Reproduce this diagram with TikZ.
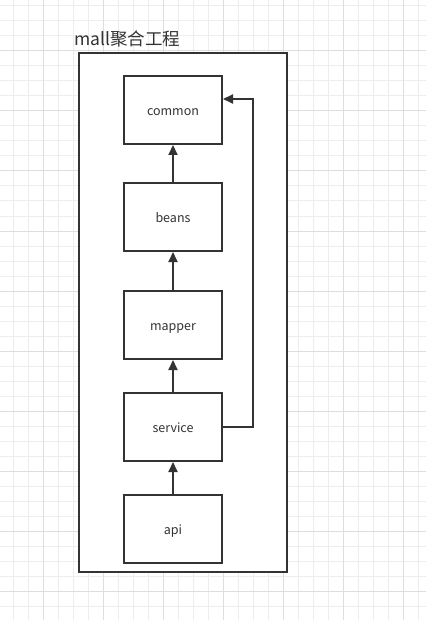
\documentclass[tikz,border=0pt]{standalone}
\usepackage{fontspec}
\setmainfont{Noto Sans CJK SC}
\usetikzlibrary{arrows.meta, calc}

\definecolor{ink}{HTML}{333333}
\definecolor{gridminor}{HTML}{EDEDED}
\definecolor{gridmajor}{HTML}{DEDEDE}

\tikzset{
	module/.style={draw=ink, line width=2pt, fill=white, minimum width=98pt, minimum height=68pt,
		font=\fontsize{12.5}{14}\selectfont, text=ink, text height=12pt, text depth=1.5pt},
	depend/.style={-{Triangle[length=10pt,width=9pt]}, draw=ink, line width=2pt},
}

\begin{document}
\begin{tikzpicture}[x=1pt, y=-1pt]
			\def\W{426} % picture width
			\def\H{620} % picture height
			\def\cx{173} % centre line of the modules
			
			\useasboundingbox (0,0) rectangle (\W,\H);
			\fill[white] (0,0) rectangle (\W,\H);
			
			% Background grid
			\foreach \x in {13,28,...,425}
				\draw[gridminor, line width=1pt] (\x,0) -- (\x,\H);
			\foreach \y in {6,21,...,619}
				\draw[gridminor, line width=1pt] (0,\y) -- (\W,\y);
			\foreach \x in {43,103,...,425}
				\draw[gridmajor, line width=1pt] (\x,0) -- (\x,\H);
			\foreach \y in {51,111,...,619}
				\draw[gridmajor, line width=1pt] (0,\y) -- (\W,\y);
			
			% Project frame
			\node[draw=ink, line width=2pt, fill=white, minimum width=208pt, minimum height=518pt,
				inner sep=0pt] (mall) at (183,312.5) {};
			\node[anchor=base west, inner sep=0pt, text=ink, font=\fontsize{17.5}{20}\selectfont]
				(title) at (74,46) {mall聚合工程};
			
			% Modules
			\node[module] (common)  at (\cx,110) {common};
			\node[module] (beans)   at (\cx,217) {beans};
			\node[module] (mapper)  at (\cx,325) {mapper};
			\node[module] (service) at (\cx,427) {service};
			\node[module] (api)     at (\cx,529) {api};
			
			% Dependencies
			\draw[depend] (api) -- (service);
			\draw[depend] (service) -- (mapper);
			\draw[depend] (mapper) -- (beans);
			\draw[depend] (beans) -- (common);
			
			\coordinate (turn) at (253,99);
			\draw[depend] (service.east) -| (turn) -- (common.east |- turn);

	\end{tikzpicture}
\end{document}
